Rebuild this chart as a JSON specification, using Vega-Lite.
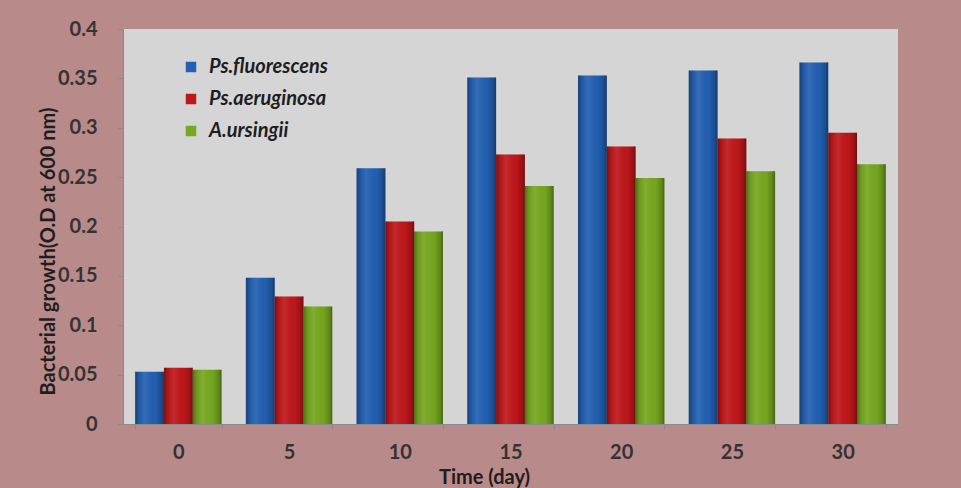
{
  "$schema": "https://vega.github.io/schema/vega-lite/v6.json",
  "width": 775,
  "height": 395,
  "autosize": {"type": "none"},
  "padding": {"left": 123, "top": 29, "right": 63, "bottom": 64},
  "background": "#b98a8a",
  "config": {
    "view": {"fill": "#d5d5d5", "stroke": null},
    "font": "Lato"
  },
  "data": {
    "values": [
      {"day": 0, "series": "Ps.fluorescens", "od": 0.053},
      {"day": 0, "series": "Ps.aeruginosa", "od": 0.057},
      {"day": 0, "series": "A.ursingii", "od": 0.055},
      {"day": 5, "series": "Ps.fluorescens", "od": 0.148},
      {"day": 5, "series": "Ps.aeruginosa", "od": 0.129},
      {"day": 5, "series": "A.ursingii", "od": 0.119},
      {"day": 10, "series": "Ps.fluorescens", "od": 0.259},
      {"day": 10, "series": "Ps.aeruginosa", "od": 0.205},
      {"day": 10, "series": "A.ursingii", "od": 0.195},
      {"day": 15, "series": "Ps.fluorescens", "od": 0.351},
      {"day": 15, "series": "Ps.aeruginosa", "od": 0.273},
      {"day": 15, "series": "A.ursingii", "od": 0.241},
      {"day": 20, "series": "Ps.fluorescens", "od": 0.353},
      {"day": 20, "series": "Ps.aeruginosa", "od": 0.281},
      {"day": 20, "series": "A.ursingii", "od": 0.249},
      {"day": 25, "series": "Ps.fluorescens", "od": 0.358},
      {"day": 25, "series": "Ps.aeruginosa", "od": 0.289},
      {"day": 25, "series": "A.ursingii", "od": 0.256},
      {"day": 30, "series": "Ps.fluorescens", "od": 0.366},
      {"day": 30, "series": "Ps.aeruginosa", "od": 0.295},
      {"day": 30, "series": "A.ursingii", "od": 0.263}
    ]
  },
  "encoding": {
    "x": {
      "field": "day",
      "type": "ordinal",
      "scale": {"paddingInner": 0.22, "paddingOuter": 0.11},
      "axis": {
        "title": "Time (day)",
        "titleFont": "Lato",
        "titleFontSize": 20,
        "titleFontWeight": "bold",
        "titleColor": "#1e1e1e",
        "titleX": 361,
        "titleY": 53,
        "titleBaseline": "middle",
        "titleAnchor": "middle",
        "labelAngle": 0,
        "labelFontSize": 20,
        "labelFontWeight": "bold",
        "labelColor": "#333333",
        "labelPadding": 13,
        "tickBand": "extent",
        "tickSize": 5,
        "tickColor": "#8a8a8a",
        "domainColor": "#8a8a8a"
      }
    },
    "xOffset": {
      "field": "series",
      "type": "nominal",
      "sort": ["Ps.fluorescens", "Ps.aeruginosa", "A.ursingii"]
    },
    "y": {
      "field": "od",
      "type": "quantitative",
      "scale": {"domain": [0, 0.4], "nice": false},
      "axis": {
        "title": "Bacterial growth(O.D at 600 nm)",
        "titleFont": "Lato",
        "titleFontSize": 20,
        "titleFontWeight": "bold",
        "titleColor": "#1e1e1e",
        "titleX": -75,
        "titleY": 222,
        "titleBaseline": "middle",
        "titleAnchor": "middle",
        "values": [0, 0.05, 0.1, 0.15, 0.2, 0.25, 0.3, 0.35, 0.4],
        "labelExpr": "datum.value == 0 ? '0' : format(datum.value, '.2~f')",
        "labelFontSize": 20,
        "labelFontWeight": "bold",
        "labelColor": "#333333",
        "labelPadding": 21,
        "tickSize": 5,
        "tickColor": "#8a8a8a",
        "domainColor": "#8a8a8a",
        "grid": false
      }
    }
  },
  "layer": [
    {
      "mark": {"type": "bar"},
      "encoding": {
        "color": {
          "field": "series",
          "type": "nominal",
          "sort": ["Ps.fluorescens", "Ps.aeruginosa", "A.ursingii"],
          "scale": {
            "domain": ["Ps.fluorescens", "Ps.aeruginosa", "A.ursingii"],
            "range": ["#2260b2", "#c0171a", "#76a820"]
          },
          "legend": {
            "title": null,
            "orient": "none",
            "legendX": 58,
            "legendY": 28,
            "symbolType": "square",
            "symbolSize": 110,
            "symbolStrokeWidth": 0,
            "symbolOpacity": 1,
            "labelFont": "Lato",
            "labelFontSize": 20,
            "labelFontStyle": "italic",
            "labelFontWeight": "bold",
            "labelColor": "#1e1e1e",
            "labelOffset": 8,
            "rowPadding": 12
          }
        }
      }
    },
    {
      "mark": {
        "type": "bar",
        "fill": {
          "gradient": "linear",
          "x1": 0, "x2": 1, "y1": 0, "y2": 0,
          "stops": [
            {"offset": 0, "color": "rgba(0,0,0,0.35)"},
            {"offset": 0.12, "color": "rgba(0,0,0,0.1)"},
            {"offset": 0.35, "color": "rgba(255,255,255,0.08)"},
            {"offset": 0.7, "color": "rgba(0,0,0,0.02)"},
            {"offset": 0.9, "color": "rgba(0,0,0,0.2)"},
            {"offset": 1, "color": "rgba(0,0,0,0.4)"}
          ]
        }
      }
    }
  ]
}
